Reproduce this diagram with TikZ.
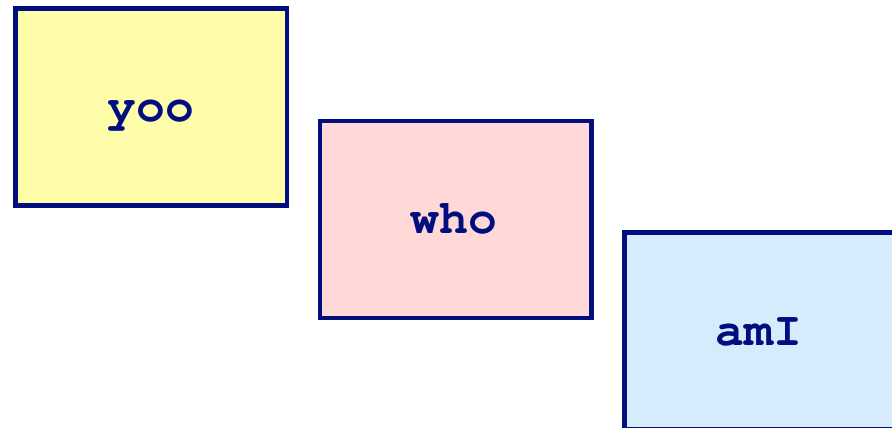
\documentclass[tikz,border=0pt]{standalone}
\usepackage{fontspec}
\newfontfamily\boxmono{TeX Gyre Cursor}
\definecolor{navy}{RGB}{0,14,128}
\definecolor{yel}{RGB}{255,252,170}
\definecolor{pnk}{RGB}{255,216,216}
\definecolor{blu}{RGB}{214,236,252}
\begin{document}
\begin{tikzpicture}[x=1pt,y=-1pt,
  box/.style={draw=navy, line width=4.5pt, minimum width=271.5pt, minimum height=197pt, inner sep=0pt, outer sep=0pt},
  lbl/.style={text=navy, font=\boxmono\bfseries\fontsize{48}{48}\selectfont, anchor=base, inner sep=0pt}]
\useasboundingbox (0,0) rectangle (892,428);
\clip (0,0) rectangle (892,428);
\node[box, fill=yel] (yoo) at (151.25,107) {};
\node[box, fill=pnk] (who) at (455.5,219.5) {};
\node[box, fill=blu] (amI) at (760.25,331) {};
\node[lbl] (tyoo) at (151,121.7) {yoo};
\node[lbl] (twho) at (454,233) {who};
\node[lbl] (tamI) at (759,345) {amI};
\end{tikzpicture}
\end{document}
